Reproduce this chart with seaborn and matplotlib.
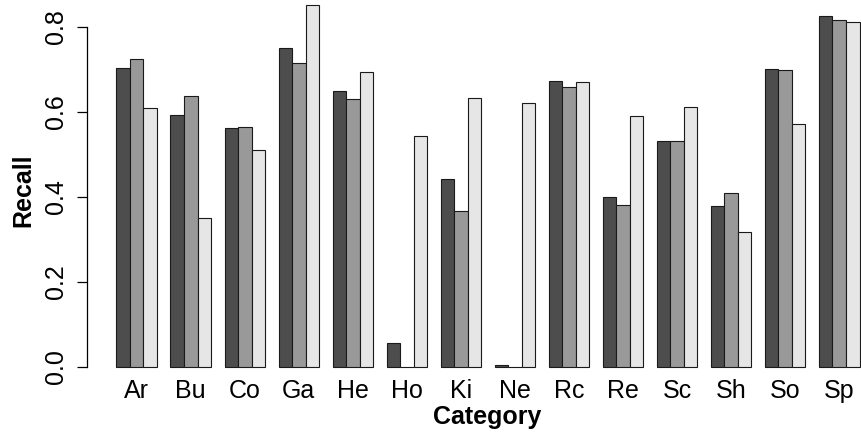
import pandas as pd
import matplotlib
matplotlib.use("Agg")
import matplotlib.pyplot as plt
import seaborn as sns

# --- DATA ---
categories = ['Ar', 'Bu', 'Co', 'Ga', 'He', 'Ho', 'Ki',
              'Ne', 'Rc', 'Re', 'Sc', 'Sh', 'So', 'Sp']
series_names = ['A', 'B', 'C']
recall_a = [0.704, 0.592, 0.561, 0.750, 0.649, 0.055, 0.441,
            0.005, 0.672, 0.399, 0.532, 0.379, 0.700, 0.825]
recall_b = [0.724, 0.638, 0.563, 0.714, 0.631, 0.000, 0.366,
            0.000, 0.659, 0.381, 0.532, 0.408, 0.697, 0.815]
recall_c = [0.609, 0.350, 0.511, 0.851, 0.693, 0.542, 0.633,
            0.620, 0.670, 0.589, 0.612, 0.316, 0.571, 0.812]
y_ticks = [0.0, 0.2, 0.4, 0.6, 0.8]

# long format for seaborn
rows = []
for name, vals in zip(series_names, [recall_a, recall_b, recall_c]):
    for cat, v in zip(categories, vals):
        rows.append({'Category': cat, 'Series': name, 'Recall': v})
df = pd.DataFrame(rows)

sns.set_theme(style="white")
plt.rcParams['font.family'] = ['Liberation Sans', 'DejaVu Sans']
FS = 18

fig = plt.figure(figsize=(8.62, 4.34), dpi=100)
W, H = 862, 434
# plot region in pixels (R-style, extends past the right edge)
left_px, right_px, top_px, bot_px = 87.0, 889.5, 0.0, 381.2
ax = fig.add_axes([left_px / W, 1 - bot_px / H,
                   (right_px - left_px) / W, (bot_px - top_px) / H])

greys = ['#4d4d4d', '#999999', '#e6e6e6']
sns.barplot(data=df, x='Category', y='Recall', hue='Series',
            order=categories, hue_order=series_names, palette=greys,
            width=0.75, saturation=1, edgecolor='#1a1a1a', linewidth=0.8,
            legend=False, ax=ax)

# axis ranges (0 at px 366.7, 0.8 at px 26.7)
ax.set_xlim(-0.92, 13.93)
ax.set_ylim(-0.0339, 0.8628)

for s in ['top', 'right', 'bottom']:
    ax.spines[s].set_visible(False)
ax.spines['left'].set_bounds(0, 0.8)
ax.spines['left'].set_color('black')
ax.spines['left'].set_linewidth(0.9)

ax.set_yticks(y_ticks)
ax.set_yticklabels([f'{t:.1f}' for t in y_ticks], rotation=90, va='center',
                   fontsize=FS)
ax.tick_params(axis='y', left=True, length=7.2, width=0.9, color='black',
               pad=6.5, direction='out')
ax.tick_params(axis='x', length=0, pad=-1.5, labelsize=FS)
for lbl in ax.get_xticklabels():
    lbl.set_color('black')
for lbl in ax.get_yticklabels():
    lbl.set_color('black')

ax.set_ylabel('Recall', fontsize=FS, fontweight='bold', color='black',
              va='center')
ax.yaxis.set_label_coords(-0.0797, 0.50)
ax.set_xlabel('Category', fontsize=FS, fontweight='bold', color='black',
              va='center')
ax.xaxis.set_label_coords(0.499, -0.094)

fig.savefig('out.png', dpi=100)
